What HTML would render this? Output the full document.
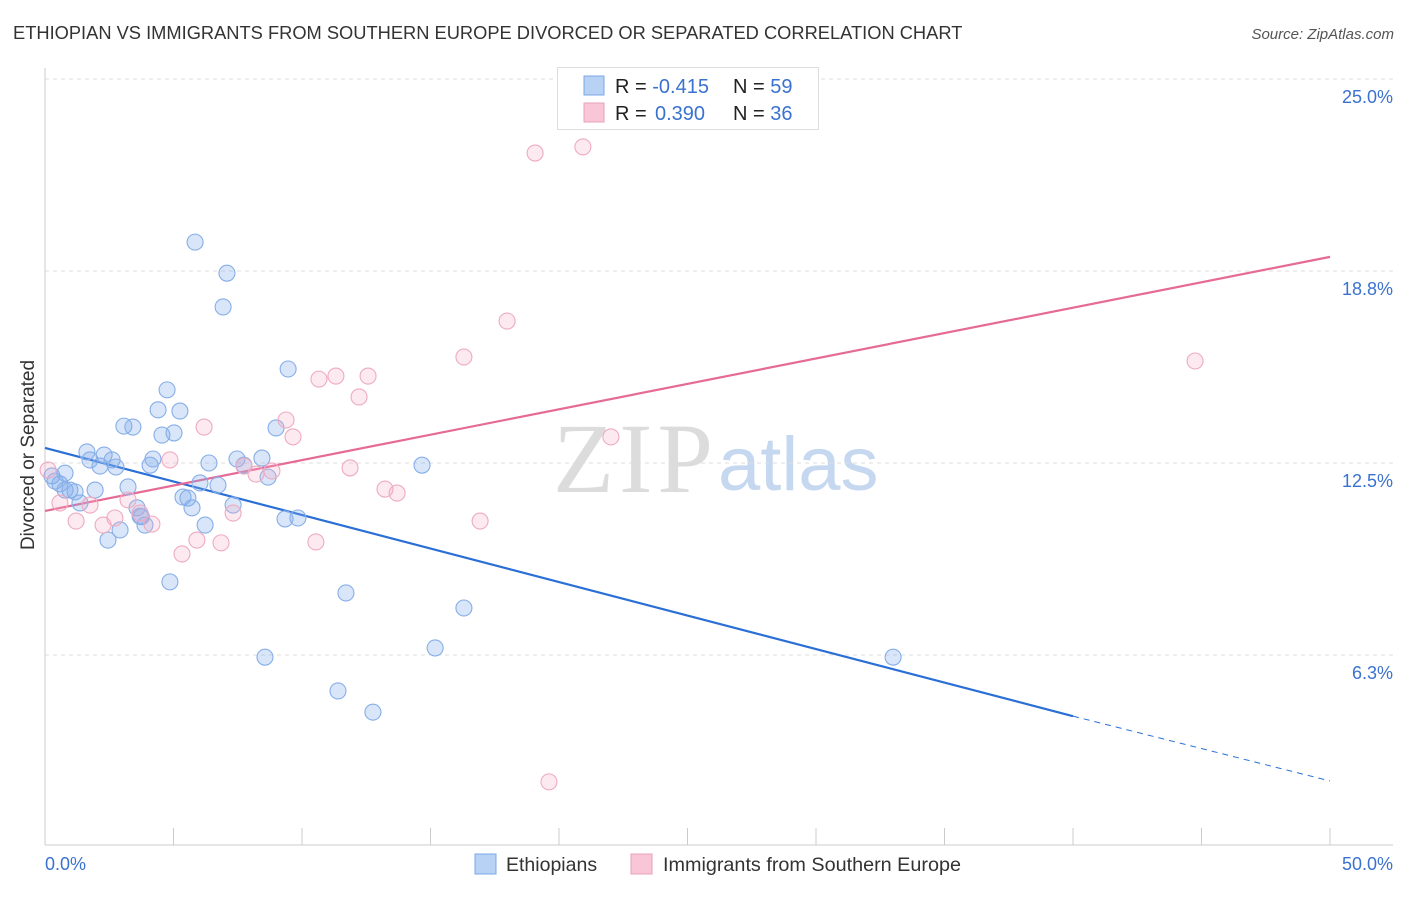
<!DOCTYPE html>
<html><head><meta charset="utf-8"><style>
body{margin:0;background:#fff;font-family:"Liberation Sans",sans-serif}
svg text{font-family:"Liberation Sans",sans-serif}
</style></head><body>
<svg id="c" width="1406" height="892">
<text x="13" y="39" font-size="18.3" fill="#333">ETHIOPIAN VS IMMIGRANTS FROM SOUTHERN EUROPE DIVORCED OR SEPARATED CORRELATION CHART</text>
<text x="1394" y="39" font-size="15" fill="#555" font-style="italic" text-anchor="end">Source: ZipAtlas.com</text>
<g>
<text x="553" y="492" font-size="100" fill="#dcdcdc" textLength="160" style="font-family:'Liberation Serif',serif">ZIP</text>
<text x="718" y="490" font-size="76" fill="#c5d8f0">atlas</text>
</g>
<g id="grid"></g>
<g id="axes"></g>
<g id="lines"></g>
<g id="pts"></g>
<text transform="translate(34,455) rotate(-90)" font-size="19" fill="#333" text-anchor="middle">Divorced or Separated</text>
<g>
<rect x="557.5" y="67.5" width="261" height="62" fill="#fff" stroke="#ddd"/>
<rect x="584" y="76" width="20" height="19" fill="#b8d2f5" stroke="#7aa7e8"/>
<rect x="584" y="103" width="20" height="19" fill="#f8c6d6" stroke="#eaa0b8"/>
<text x="615" y="93" font-size="20" fill="#222">R = <tspan fill="#3a72d0">-0.415</tspan><tspan x="733">N = </tspan><tspan fill="#3a72d0">59</tspan></text>
<text x="615" y="120" font-size="20" fill="#222">R = <tspan x="655" fill="#3a72d0">0.390</tspan><tspan x="733">N = </tspan><tspan fill="#3a72d0">36</tspan></text>
</g>
<g>
<rect x="475" y="854" width="21" height="20" fill="#b8d2f5" stroke="#7aa7e8"/>
<text x="506" y="871" font-size="19.5" fill="#333">Ethiopians</text>
<rect x="631" y="854" width="21" height="20" fill="#f8c6d6" stroke="#eaa0b8"/>
<text x="663" y="871" font-size="19.8" fill="#333">Immigrants from Southern Europe</text>
</g>
</svg>
<script>
const blueX=[0.27,0.39,0.58,0.78,0.97,1.17,1.36,1.63,1.75,1.95,2.14,2.30,2.45,2.61,2.76,2.92,3.07,3.23,3.42,3.58,3.70,3.89,4.09,4.20,4.40,4.55,4.75,4.86,5.02,5.25,5.37,5.56,5.72,5.84,6.03,6.23,6.38,6.73,6.93,7.08,7.32,7.47,7.74,8.44,8.56,8.68,8.99,9.34,9.46,9.84,11.40,11.71,12.76,14.67,15.18,16.30,33.0,0.78,3.75];
const blueY=[12.08,11.91,11.82,12.17,11.62,11.56,11.20,12.86,12.60,11.62,12.40,12.76,9.99,12.60,12.37,10.32,13.70,11.72,13.67,11.04,10.77,10.48,12.43,12.63,14.23,13.41,14.88,8.63,13.48,14.19,11.39,11.36,11.04,19.69,11.85,10.48,12.50,11.78,17.58,18.68,11.13,12.63,12.43,12.66,6.18,12.04,13.64,10.68,15.56,10.71,5.08,8.27,4.39,12.43,6.48,7.78,6.18,11.62,10.75];
const pinkX=[0.12,0.58,1.21,1.75,2.26,2.72,3.23,3.70,4.16,4.86,5.33,5.91,6.19,6.85,7.32,7.74,8.21,8.83,9.38,9.65,10.54,10.66,11.32,11.87,12.22,12.57,13.23,13.70,16.30,16.93,17.98,19.07,19.61,20.93,22.02,44.75];
const pinkY=[12.27,11.20,10.61,11.13,10.48,10.71,11.30,10.87,10.51,12.60,9.54,9.99,13.67,9.90,10.87,12.40,12.14,12.24,13.90,13.35,9.93,15.23,15.33,12.34,14.65,15.33,11.65,11.52,15.95,10.61,17.12,22.59,2.12,22.79,13.35,15.82];
const yTicks=[25.0,18.75,12.5,6.25];
const yTickLabels=["25.0%","18.8%","12.5%","6.3%"];
const blueTrend=[[0,12.99],[40,4.26],[50,2.15]];
const pinkTrend=[[0,10.94],[50,19.21]];
const X=v=>45+v*25.7, Y=v=>847-v*30.72;
const NS="http://www.w3.org/2000/svg";
function mk(p,t,a){const e=document.createElementNS(NS,t);for(const k in a)e.setAttribute(k,a[k]);p.appendChild(e);return e;}
const grid=document.getElementById('grid'),axes=document.getElementById('axes'),lines=document.getElementById('lines'),pts=document.getElementById('pts');
yTicks.forEach((t,i)=>{
 const l=mk(grid,'line',{x1:45,x2:1393,y1:Y(t),y2:Y(t),stroke:'#ddd','stroke-dasharray':'4,4'});
 
 
 const tx=mk(grid,'text',{x:1393,y:Y(t)+24,'font-size':18,fill:'#3a72d0','text-anchor':'end'});
 tx.textContent=yTickLabels[i];
 
 
});
const ax=mk(axes,'line',{x1:45,x2:45,y1:68,y2:845,stroke:'#ccc'});


const bx=mk(axes,'line',{x1:45,x2:1393,y1:845,y2:845,stroke:'#ccc'});


for(let i=0;i<=10;i++){const tk=mk(axes,'line',{x1:X(i*5),x2:X(i*5),y1:828,y2:845,stroke:'#ccc'});
 
 }
[["0.0%",45,'start'],["50.0%",1393,'end']].forEach(d=>{const t=mk(axes,'text',{x:d[1],y:870,'font-size':18,fill:'#3a72d0','text-anchor':d[2]});t.textContent=d[0];
 
 });
function pt(xs,ys,fill,stroke,name){xs.forEach((x,i)=>{const c=mk(pts,'circle',{cx:X(x),cy:Y(ys[i]),r:8,fill:fill,stroke:stroke,'stroke-width':1.1});
 
 });}
pt(blueX,blueY,'rgba(130,172,236,0.3)','#86aee8','ethiopian-point');
pt(pinkX,pinkY,'rgba(245,170,195,0.25)','#eeaac0','southern-europe-point');
const b1=mk(lines,'line',{x1:X(blueTrend[0][0]),y1:Y(blueTrend[0][1]),x2:X(blueTrend[1][0]),y2:Y(blueTrend[1][1]),stroke:'#2a6fd6','stroke-width':2.2});


const b2=mk(lines,'line',{x1:X(blueTrend[1][0]),y1:Y(blueTrend[1][1]),x2:X(blueTrend[2][0]),y2:Y(blueTrend[2][1]),stroke:'#2a6fd6','stroke-width':1,'stroke-dasharray':'6,5'});


const p1=mk(lines,'line',{x1:X(pinkTrend[0][0]),y1:Y(pinkTrend[0][1]),x2:X(pinkTrend[1][0]),y2:Y(pinkTrend[1][1]),stroke:'#e66a96','stroke-width':2.2});


</script>
</body></html>
